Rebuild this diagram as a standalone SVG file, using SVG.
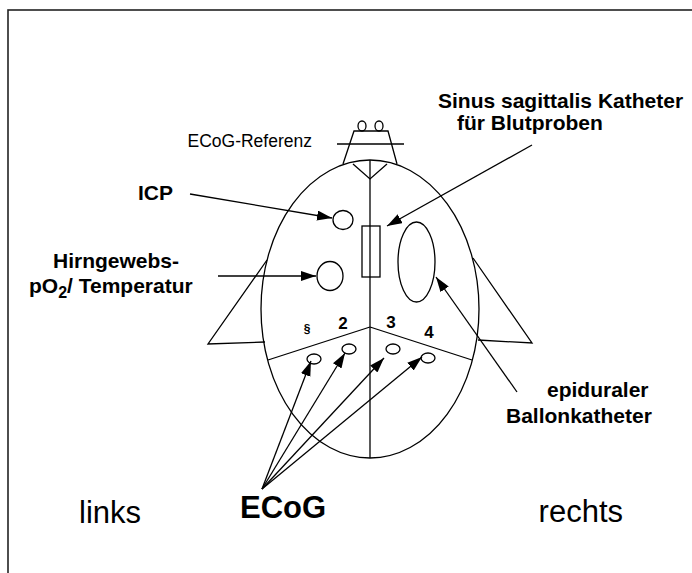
<svg xmlns="http://www.w3.org/2000/svg" width="692" height="573" viewBox="0 0 692 573">
  <defs>
    <marker id="arrow" markerUnits="userSpaceOnUse" markerWidth="16" markerHeight="11" refX="15" refY="5" orient="auto">
      <path d="M0,0 L15,5 L0,10 Z" fill="#000"/>
    </marker>
    <style>
      .ln { fill: none; stroke: #000; stroke-width: 1.3; }
      .conn { fill: none; stroke: #000; stroke-width: 1.3; marker-end: url(#arrow); }
      .bold { font-family: "Liberation Sans", Arial, sans-serif; font-weight: bold; fill: #000; }
      .reg { font-family: "Liberation Sans", Arial, sans-serif; fill: #000; }
      .lbl { font-size: 21px; }
    </style>
  </defs>

  <!-- frame -->
  <rect x="8" y="10" width="700" height="580" fill="#fff" stroke="#222" stroke-width="1.6"/>

  <!-- head seen from above -->
  <g id="head">
    <!-- ears -->
    <polyline class="ln" points="267,260 208,344 265,342"/>
    <polyline class="ln" points="473,258 532,343 478,340"/>
    <ellipse class="ln" cx="370" cy="309" rx="109" ry="149" fill="#fff"/>
    <!-- nose / reference electrode holder -->
    <polyline class="ln" points="343,164 354,131 388,131 397,164"/>
    <line class="ln" x1="337" y1="144" x2="404" y2="144"/>
    <ellipse class="ln" cx="362" cy="126" rx="4" ry="5"/>
    <ellipse class="ln" cx="379" cy="126" rx="4" ry="5"/>
    <polyline class="ln" points="353,164 370,179 387,164"/>
    <!-- midline -->
    <line class="ln" x1="370" y1="160" x2="370" y2="458"/>
    <!-- ECoG field borders -->
    <line class="ln" x1="268" y1="360" x2="370" y2="327"/>
    <line class="ln" x1="370" y1="327" x2="472" y2="360"/>
  </g>

  <g id="icp-probe"><ellipse class="ln" cx="343" cy="220" rx="10" ry="9.5"/></g>
  <g id="po2-probe"><ellipse class="ln" cx="330" cy="276" rx="13" ry="14.5"/></g>
  <g id="sinus-catheter"><rect class="ln" x="362" y="226" width="18" height="51"/></g>
  <g id="balloon"><ellipse class="ln" cx="416.5" cy="262" rx="18.5" ry="40"/></g>

  <g id="electrodes">
    <ellipse class="ln" cx="314" cy="359" rx="7" ry="5"/>
    <ellipse class="ln" cx="349" cy="349" rx="7" ry="5"/>
    <ellipse class="ln" cx="393" cy="349" rx="7" ry="5"/>
    <ellipse class="ln" cx="428" cy="358" rx="7" ry="5"/>
    <text class="bold" x="307" y="333" font-size="12" text-anchor="middle">§</text>
    <text class="bold" x="343" y="329" font-size="17" text-anchor="middle">2</text>
    <text class="bold" x="391" y="328" font-size="17" text-anchor="middle">3</text>
    <text class="bold" x="429" y="338" font-size="17" text-anchor="middle">4</text>
  </g>

  <!-- labels -->
  <g id="label-reference"><text class="reg" x="312" y="147" font-size="17.5" text-anchor="end">ECoG-Referenz</text></g>
  <g id="label-sinus">
    <text class="bold lbl" x="438" y="108">Sinus sagittalis Katheter</text>
    <text class="bold lbl" x="457" y="130">für Blutproben</text>
  </g>
  <g id="label-icp"><text class="bold lbl" x="138" y="200">ICP</text></g>
  <g id="label-po2">
    <text class="bold lbl" x="53" y="268">Hirngewebs-</text>
    <text class="bold lbl" x="29" y="293">pO<tspan font-size="16" dy="5">2</tspan><tspan dy="-5">/ Temperatur</tspan></text>
  </g>
  <g id="label-balloon">
    <text class="bold lbl" x="547" y="397">epiduraler</text>
    <text class="bold lbl" x="506" y="423">Ballonkatheter</text>
  </g>
  <g id="label-ecog"><text class="bold" x="240" y="518" font-size="31">ECoG</text></g>
  <g id="label-left"><text class="reg" x="79" y="523" font-size="31">links</text></g>
  <g id="label-right"><text class="reg" x="623" y="522" font-size="31" text-anchor="end">rechts</text></g>

  <!-- connectors -->
  <g id="connectors">
    <line class="conn" x1="190" y1="194" x2="332" y2="218"/>
    <line class="conn" x1="218" y1="276" x2="316" y2="276"/>
    <line class="conn" x1="532" y1="145" x2="387" y2="226"/>
    <line class="conn" x1="517" y1="392" x2="436" y2="277"/>
    <line class="conn" x1="262" y1="489" x2="311" y2="361"/>
    <line class="conn" x1="262" y1="489" x2="345" y2="353"/>
    <line class="conn" x1="262" y1="489" x2="384" y2="358"/>
    <line class="conn" x1="262" y1="489" x2="422" y2="357"/>
  </g>
</svg>
